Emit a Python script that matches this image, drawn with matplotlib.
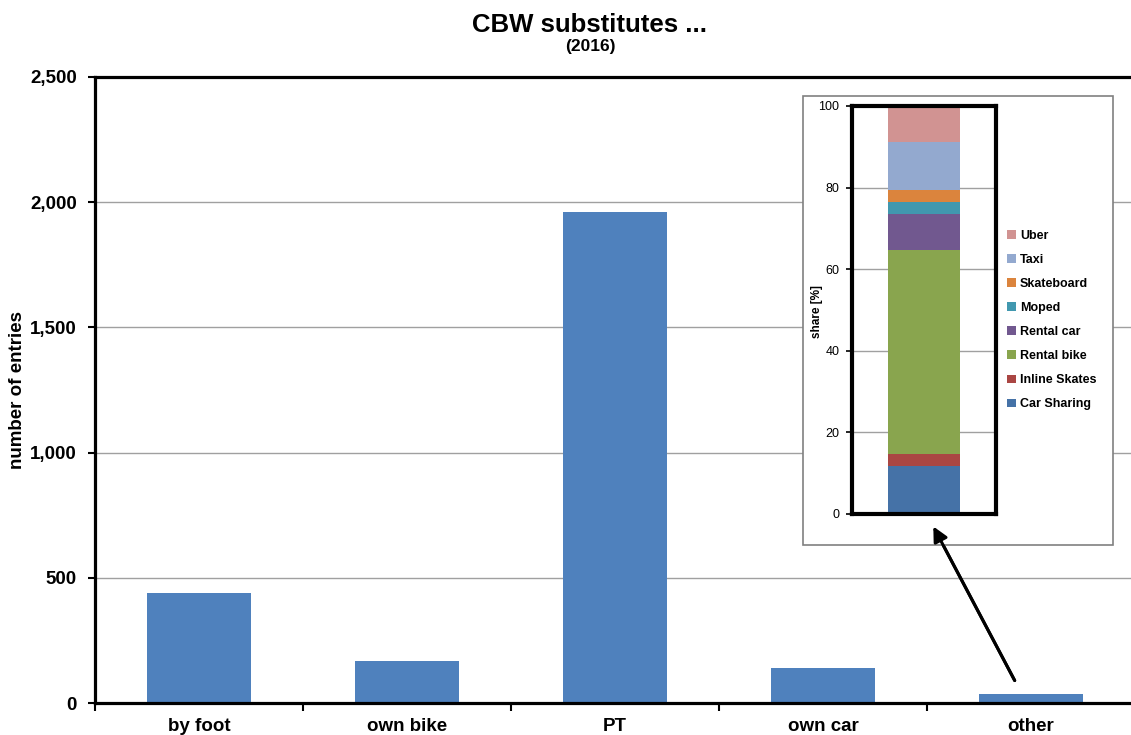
import matplotlib
matplotlib.use("Agg")
import matplotlib.pyplot as plt
from matplotlib.patches import Rectangle

# =========================
# Data
# =========================
CATEGORIES = ["by foot", "own bike", "PT", "own car", "other"]
ENTRIES = [438, 166, 1961, 139, 36]

OTHER_MODES = ["Car Sharing", "Inline Skates", "Rental bike", "Rental car",
               "Moped", "Skateboard", "Taxi", "Uber"]
OTHER_SHARE = [11.8, 2.9, 50.0, 8.8, 2.9, 2.9, 11.8, 9.0]
OTHER_COLORS = ["#4572A7", "#AA4643", "#89A54E", "#71588F",
                "#4198AF", "#DB843D", "#93A9CF", "#D19392"]

plt.rcParams['font.family'] = ['Liberation Sans', 'DejaVu Sans']

W, H = 1131, 735
fig = plt.figure(figsize=(W / 100, H / 100), dpi=100)


def fx(px):
    return px / W


def fy(py):
    return 1 - py / H


# =========================
# Main bar chart
# =========================
ax = fig.add_axes([fx(95), fy(703), fx(1135) - fx(95), fy(77) - fy(703)])
x = range(len(CATEGORIES))
ax.bar(x, ENTRIES, width=0.5, color="#4F81BD", zorder=2)
ax.set_xlim(-0.5, len(CATEGORIES) - 0.5)
ax.set_ylim(0, 2500)
ax.set_yticks([0, 500, 1000, 1500, 2000, 2500])
ax.set_yticklabels(["0", "500", "1,000", "1,500", "2,000", "2,500"],
                   fontsize=13.5, fontweight="bold")
ax.yaxis.grid(True, color="#A0A0A0", linewidth=1.0, zorder=0)
ax.set_axisbelow(True)

ax.set_xticks([i - 0.5 for i in range(len(CATEGORIES) + 1)])
ax.set_xticklabels([])
ax.set_xticks(list(x), minor=True)
ax.set_xticklabels(CATEGORIES, minor=True, fontsize=13.5, fontweight="bold")
ax.tick_params(axis="x", which="major", direction="out", length=6, width=1.5)
ax.tick_params(axis="x", which="minor", length=0, pad=11)
ax.tick_params(axis="y", direction="out", length=5, width=1.5, pad=8)
for s in ax.spines.values():
    s.set_linewidth(2.3)
    s.set_color("black")

fig.text(fx(18), fy(390), "number of entries", rotation=90, ha="center",
         va="center", fontsize=13.5, fontweight="bold")
fig.text(fx(590), fy(25), "CBW substitutes ...", ha="center", va="center",
         fontsize=18.5, fontweight="bold")
fig.text(fx(590), fy(47), "(2016)", ha="center", va="center",
         fontsize=12.5, fontweight="bold")

# =========================
# Inset: composition of "other"
# =========================
frame = Rectangle((fx(803), fy(545)), fx(1113) - fx(803), fy(96) - fy(545),
                  transform=fig.transFigure, facecolor="white",
                  edgecolor="#808080", linewidth=1.2, zorder=5)
fig.patches.append(frame)

ins = fig.add_axes([fx(852), fy(514), fx(996) - fx(852), fy(106) - fy(514)])
ins.set_zorder(6)
bottom = 0
for name, val, col in zip(OTHER_MODES, OTHER_SHARE, OTHER_COLORS):
    ins.bar(0, val, bottom=bottom, width=0.5, color=col, label=name, zorder=2)
    bottom += val
ins.set_xlim(-0.5, 0.5)
ins.set_ylim(0, 100)
ins.set_yticks([0, 20, 40, 60, 80, 100])
ins.tick_params(axis="y", labelsize=9, length=4, width=1.2, pad=5)
ins.set_xticks([])
ins.yaxis.grid(True, color="#A0A0A0", linewidth=1.0, zorder=0)
ins.set_axisbelow(True)
for s in ins.spines.values():
    s.set_linewidth(3)
    s.set_color("black")
fig.text(fx(817), fy(312), "share [%]", rotation=90, ha="center",
         va="center", fontsize=8.5, fontweight="bold", zorder=7)

handles, labels = ins.get_legend_handles_labels()
leg = fig.legend(handles[::-1], labels[::-1], loc="center left",
                 bbox_to_anchor=(fx(1002), fy(320)), frameon=False,
                 prop={"size": 9, "weight": "bold"},
                 handlelength=0.7, handleheight=0.7, handletextpad=0.35,
                 labelspacing=0.97, borderaxespad=0)
leg.set_zorder(7)

# =========================
# Arrow from "other" bar to inset
# =========================
fig.add_artist(plt.annotate("", xy=(fx(932), fy(524)), xytext=(fx(1016), fy(683)),
                            xycoords="figure fraction", textcoords="figure fraction",
                            arrowprops=dict(arrowstyle="-|>", color="black",
                                            lw=2.2, mutation_scale=22)))

fig.savefig("out.png", dpi=100)
